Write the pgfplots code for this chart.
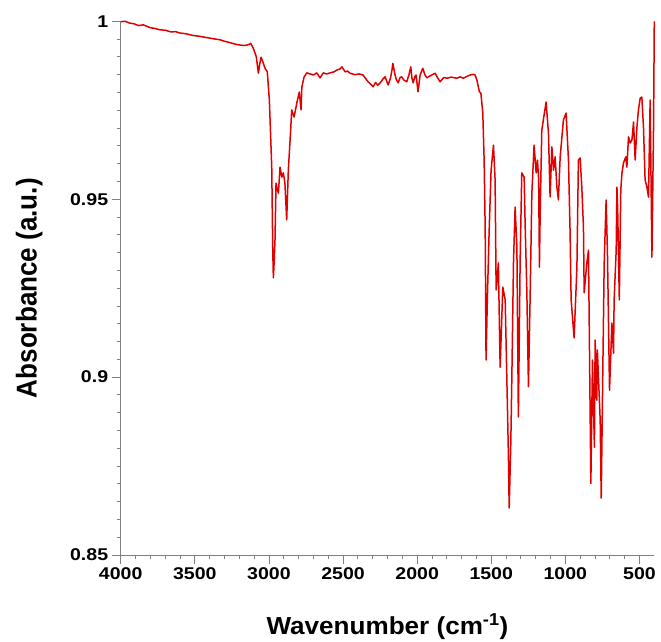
\documentclass[border=0pt]{standalone}
\usepackage{fontspec}
\setmainfont{Liberation Sans}
\newfontfamily\tickfont[FakeStretch=1.15]{Liberation Sans}
\newfontfamily\xlabfont[FakeStretch=1.06]{Liberation Sans}
\usepackage{graphicx}
\usepackage{pgfplots}
\pgfplotsset{compat=1.18}
\usetikzlibrary{calc}
\definecolor{spec}{RGB}{225,0,0}
\definecolor{axgray}{RGB}{128,128,128}
\begin{document}
\begin{tikzpicture}
\begin{axis}[
  scale only axis,
  width=533.6pt, height=533.7pt,
  x dir=reverse,
  xmin=400, xmax=4000,
  ymin=0.85, ymax=1,
  axis x line*=bottom, axis y line*=left,
  axis line style={axgray, line width=1pt},
  every tick/.style={axgray, line width=0.8pt},
  tick align=outside,
  major tick length=9pt, minor tick length=4pt,
  xtick={500,1000,...,4000},
  minor x tick num=4,
  ytick={0.85,0.9,0.95,1},
  yticklabels={0.85,0.9,0.95,1},
  minor y tick num=9,
  /pgf/number format/set thousands separator={},
  /pgf/number format/assume math mode=true,
  tick label style={font=\tickfont\fontsize{17}{20}\selectfont\bfseries},
  xlabel={\xlabfont\fontsize{24.6}{28}\selectfont\bfseries Wavenumber (cm\textsuperscript{-1})},
  ylabel={\resizebox*{220pt}{26.7pt}{\fontsize{22.8}{27}\selectfont\bfseries Absorbance (a.u.)}},
  xlabel style={at={(axis description cs:0.5,-0.1486)}, anchor=base},
  ylabel style={at={(axis description cs:-0.1574,0.5)}, anchor=base, rotate=0},
  clip=false,
]
\addplot[spec, line width=1.5pt, line join=round] coordinates {
(4000,0.9999) (3970,1.0000) (3941,0.9995) (3910,0.9993) (3880,0.9988) (3847,0.9990) (3800,0.9982) (3770,0.9980) (3735,0.9976) (3700,0.9975) (3660,0.9970) (3630,0.9971) (3600,0.9967) (3560,0.9965) (3510,0.9960) (3470,0.9958) (3430,0.9955) (3375,0.9951) (3330,0.9948) (3300,0.9944) (3262,0.9940) (3220,0.9935) (3190,0.9933) (3160,0.9932) (3135,0.9935) (3123,0.9938) (3105,0.9924) (3085,0.9900) (3071,0.9854) (3062,0.9880) (3053,0.9899) (3040,0.9885) (3026,0.9868) (3011,0.9858) (2997,0.9779) (2981,0.9591) (2974,0.9357) (2970,0.9279) (2965,0.9320) (2959,0.9385) (2952,0.9545) (2945,0.9530) (2936,0.9517) (2925,0.9590) (2913,0.9562) (2903,0.9574) (2892,0.9545) (2880,0.9442) (2869,0.9582) (2857,0.9667) (2846,0.9751) (2830,0.9731) (2812,0.9770) (2795,0.9801) (2783,0.9751) (2778,0.9815) (2763,0.9843) (2745,0.9855) (2720,0.9852) (2700,0.9849) (2677,0.9855) (2655,0.9841) (2633,0.9855) (2610,0.9852) (2587,0.9855) (2560,0.9858) (2542,0.9863) (2520,0.9866) (2508,0.9872) (2486,0.9858) (2470,0.9860) (2452,0.9854) (2420,0.9850) (2390,0.9852) (2365,0.9849) (2345,0.9838) (2331,0.9830) (2310,0.9822) (2297,0.9816) (2280,0.9828) (2265,0.9820) (2250,0.9827) (2230,0.9838) (2216,0.9844) (2196,0.9821) (2180,0.9840) (2170,0.9862) (2164,0.9882) (2149,0.9849) (2140,0.9836) (2128,0.9827) (2115,0.9842) (2104,0.9844) (2090,0.9835) (2070,0.9830) (2055,0.9850) (2043,0.9872) (2035,0.9840) (2027,0.9827) (2015,0.9845) (2007,0.9849) (1994,0.9802) (1980,0.9849) (1962,0.9868) (1948,0.9850) (1935,0.9841) (1915,0.9846) (1901,0.9849) (1879,0.9854) (1860,0.9840) (1845,0.9830) (1820,0.9842) (1800,0.9840) (1770,0.9843) (1732,0.9840) (1710,0.9844) (1688,0.9840) (1660,0.9846) (1643,0.9849) (1620,0.9851) (1609,0.9849) (1597,0.9835) (1580,0.9802) (1570,0.9798) (1557,0.9742) (1548,0.9610) (1541,0.9422) (1535,0.9048) (1526,0.9225) (1514,0.9413) (1501,0.9582) (1485,0.9652) (1474,0.9554) (1467,0.9245) (1452,0.9321) (1440,0.9028) (1422,0.9253) (1406,0.9217) (1395,0.9000) (1384,0.8776) (1379,0.8632) (1368,0.8815) (1361,0.9000) (1350,0.9321) (1339,0.9478) (1327,0.9366) (1317,0.8888) (1305,0.9329) (1294,0.9574) (1278,0.9562) (1271,0.9422) (1260,0.9245) (1249,0.8973) (1238,0.9217) (1226,0.9517) (1211,0.9652) (1197,0.9574) (1188,0.9610) (1180,0.9554) (1175,0.9309) (1170,0.9460) (1159,0.9694) (1130,0.9773) (1114,0.9686) (1103,0.9506) (1091,0.9647) (1080,0.9582) (1069,0.9619) (1057,0.9534) (1047,0.9498) (1035,0.9619) (1013,0.9723) (995,0.9742) (979,0.9610) (968,0.9405) (961,0.9217) (941,0.9110) (922,0.9309) (912,0.9610) (900,0.9616) (889,0.9534) (878,0.9422) (873,0.9237) (855,0.9321) (844,0.9357) (828,0.8701) (817,0.9048) (804,0.8803) (799,0.9104) (788,0.8935) (784,0.9076) (765,0.8879) (758,0.8660) (747,0.9028) (738,0.9321) (725,0.9498) (716,0.9349) (702,0.8963) (686,0.9152) (675,0.9067) (671,0.9217) (657,0.9357) (652,0.9534) (647,0.9470) (636,0.9217) (626,0.9526) (618,0.9574) (608,0.9602) (592,0.9619) (585,0.9590) (574,0.9675) (563,0.9658) (551,0.9666) (540,0.9717) (529,0.9610) (517,0.9703) (507,0.9751) (495,0.9784) (484,0.9787) (473,0.9703) (462,0.9554) (450,0.9534) (439,0.9506) (428,0.9779) (416,0.9337) (405,0.9703) (400,1.0000)
};
\coordinate (bl) at (rel axis cs:0,0);
\coordinate (tr) at (rel axis cs:1,1);
\end{axis}
\pgfresetboundingbox
\path ($(bl)+(-120.7pt,-87pt)$) rectangle ($(tr)+(6.7pt,21.3pt)$);
\end{tikzpicture}
\end{document}
